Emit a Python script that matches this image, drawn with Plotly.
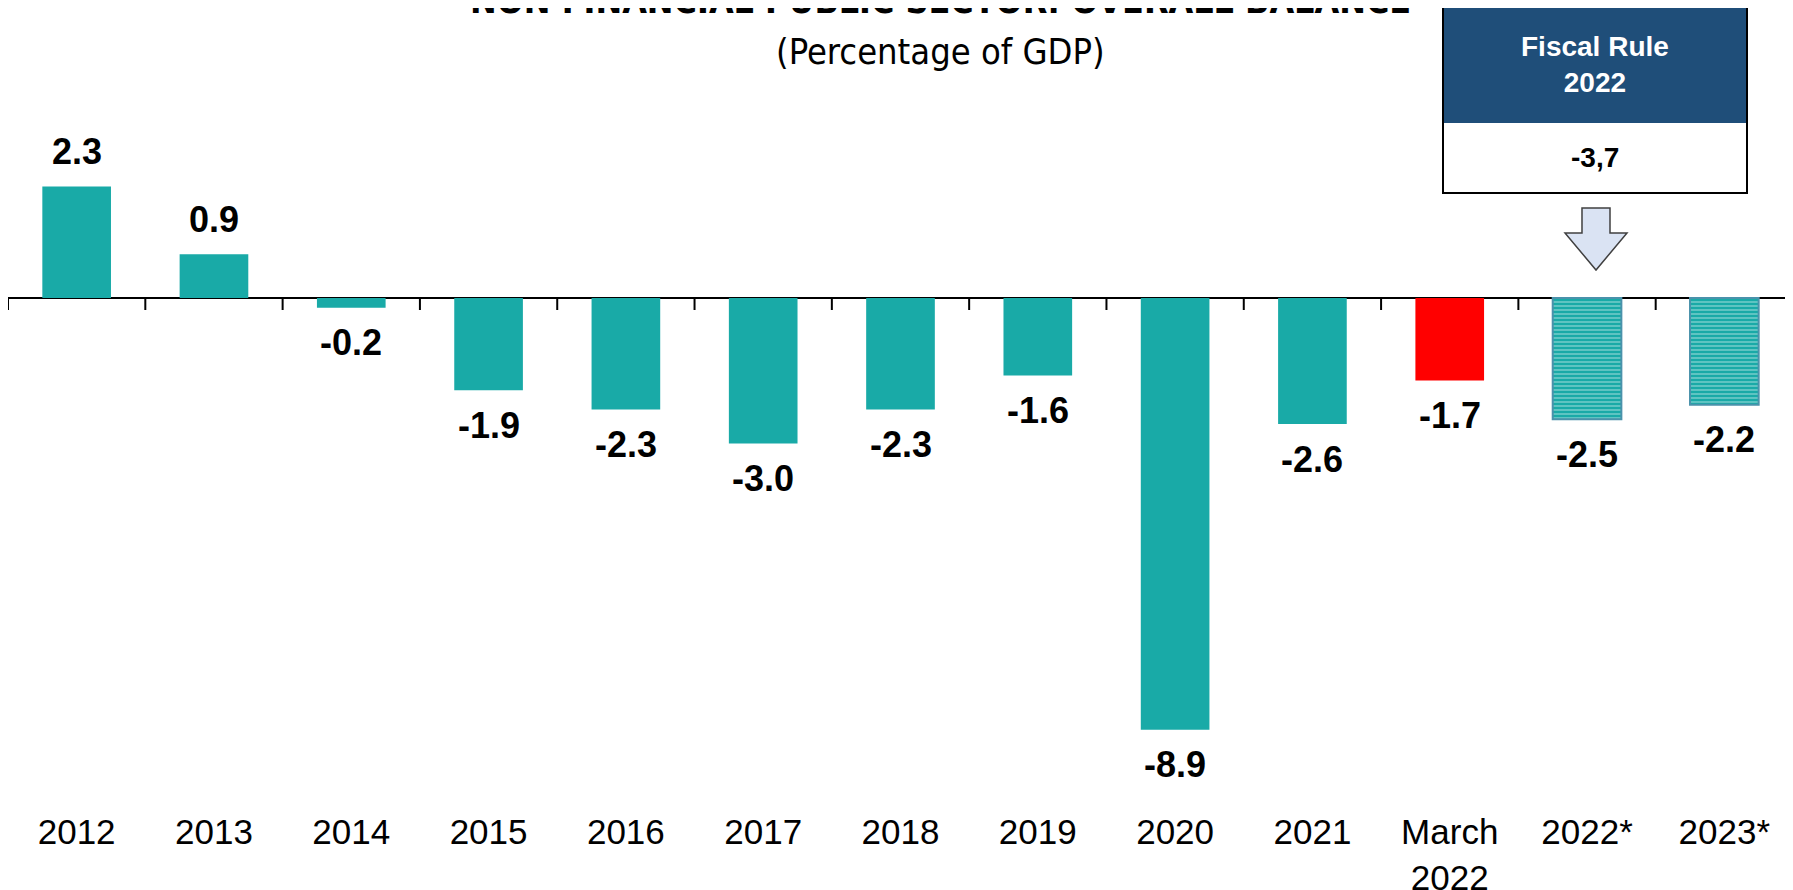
import plotly.graph_objects as go

categories = ["2012", "2013", "2014", "2015", "2016", "2017", "2018", "2019",
              "2020", "2021", "March<br>2022", "2022*", "2023*"]
values = [2.3, 0.9, -0.2, -1.9, -2.3, -3.0, -2.3, -1.6, -8.9, -2.6, -1.7, -2.5, -2.2]
kinds = ["actual"] * 10 + ["march", "projection", "projection"]
fiscal_rule_title = "Fiscal Rule<br>2022"
fiscal_rule_value = "-3,7"
title_text = "NON FINANCIAL PUBLIC SECTOR: OVERALL BALANCE"
subtitle_text = "(Percentage of GDP)"

# page body has an 8px default margin; figure sized to fill the window
OFF = 8
W, H = 1785, 882
ML, MR, MT, MB = 0, 0, 92, 82
PX_PER_UNIT = 48.5
ZERO_SCREEN = 298
plot_h = H - MT - MB
plot_w = W - ML - MR
plot_top_screen = OFF + MT
plot_bot_screen = OFF + H - MB
y_top = (ZERO_SCREEN - plot_top_screen) / PX_PER_UNIT
y_bot = -(plot_bot_screen - ZERO_SCREEN) / PX_PER_UNIT


def px_x(sx):
    return (sx - OFF - ML) / plot_w


def px_y(sy):
    return (plot_bot_screen - sy) / plot_h


TEAL = "#19AAA7"
RED = "#FF0000"
BOLD = "Liberation Sans, Arial, sans-serif"
NARROW = "Liberation Sans Narrow, Arial Narrow, DejaVu Sans Condensed, sans-serif"

positions = list(range(len(categories)))

fig = go.Figure()

idx_actual = [i for i, k in enumerate(kinds) if k == "actual"]
idx_march = [i for i, k in enumerate(kinds) if k == "march"]
idx_proj = [i for i, k in enumerate(kinds) if k == "projection"]

fig.add_trace(go.Bar(
    x=[positions[i] for i in idx_actual], y=[values[i] for i in idx_actual], width=0.5,
    marker=dict(color=TEAL, line=dict(width=0)), showlegend=False, hoverinfo="skip"))
fig.add_trace(go.Bar(
    x=[positions[i] for i in idx_march], y=[values[i] for i in idx_march], width=0.5,
    marker=dict(color=RED, line=dict(width=0)), showlegend=False, hoverinfo="skip"))
fig.add_trace(go.Bar(
    x=[positions[i] for i in idx_proj], y=[values[i] for i in idx_proj], width=0.5,
    marker=dict(color=TEAL,
                pattern=dict(shape="-", fgcolor="white", bgcolor=TEAL, size=4, solidity=0.3),
                line=dict(color="#4A92AB", width=2)),
    showlegend=False, hoverinfo="skip"))

annotations = []
for p, v in zip(positions, values):
    annotations.append(dict(
        x=p, y=v, xref="x", yref="y", text=f"<b>{v:.1f}</b>", showarrow=False,
        xanchor="center", yanchor="middle", yshift=35 if v > 0 else -35,
        font=dict(family=BOLD, size=36, color="black")))

# title and subtitle
annotations.append(dict(x=px_x(940), y=px_y(0), xref="paper", yref="paper",
                        text=f"<b>{title_text}</b>", showarrow=False,
                        xanchor="center", yanchor="middle",
                        font=dict(family=NARROW, size=35.5, color="black")))
annotations.append(dict(x=px_x(940), y=px_y(52), xref="paper", yref="paper",
                        text=subtitle_text, showarrow=False,
                        xanchor="center", yanchor="middle",
                        font=dict(family=NARROW, size=36, color="black")))

# fiscal rule box texts
annotations.append(dict(x=px_x(1595), y=px_y(65), xref="paper", yref="paper",
                        text=f"<b>{fiscal_rule_title}</b>", showarrow=False,
                        xanchor="center", yanchor="middle", align="center",
                        font=dict(family=BOLD, size=28, color="white")))
annotations.append(dict(x=px_x(1595), y=px_y(157), xref="paper", yref="paper",
                        text=f"<b>{fiscal_rule_value}</b>", showarrow=False,
                        xanchor="center", yanchor="middle",
                        font=dict(family=BOLD, size=28, color="black")))

shapes = []
# tick marks at category boundaries on zero line
tick_len = 12 / PX_PER_UNIT
for i in range(len(categories) + 1):
    shapes.append(dict(type="line", xref="x", yref="y", x0=i - 0.5, x1=i - 0.5,
                       y0=0, y1=-tick_len, line=dict(color="black", width=2)))

# box
shapes.append(dict(type="rect", xref="paper", yref="paper",
                   x0=px_x(1443), x1=px_x(1747), y0=px_y(123), y1=px_y(7),
                   fillcolor="#1F4E79", line=dict(width=0), layer="above"))
shapes.append(dict(type="rect", xref="paper", yref="paper",
                   x0=px_x(1443), x1=px_x(1747), y0=px_y(193), y1=px_y(123),
                   fillcolor="white", line=dict(width=0), layer="above"))
shapes.append(dict(type="rect", xref="paper", yref="paper",
                   x0=px_x(1443), x1=px_x(1747), y0=px_y(193), y1=px_y(7),
                   fillcolor="rgba(0,0,0,0)", line=dict(color="black", width=2), layer="above"))

# down arrow
pts = [(1582, 208), (1610, 208), (1610, 233), (1627, 233), (1596, 270), (1565, 233), (1582, 233)]
path = "M " + " L ".join(f"{px_x(a):.5f},{px_y(b):.5f}" for a, b in pts) + " Z"
shapes.append(dict(type="path", xref="paper", yref="paper", path=path,
                   fillcolor="#DAE3F3", line=dict(color="#404040", width=1.5), layer="above"))

fig.update_layout(
    width=W, height=H,
    margin=dict(l=ML, r=MR, t=MT, b=MB, pad=0, autoexpand=False),
    plot_bgcolor="white", paper_bgcolor="white",
    barmode="overlay",
    showlegend=False,
    annotations=annotations,
    shapes=shapes,
    xaxis=dict(range=[-0.5, len(categories) - 0.5], tickmode="array",
               tickvals=positions, ticktext=categories, automargin=False,
               showgrid=False, showline=False, ticks="", zeroline=False,
               tickfont=dict(family="Liberation Sans, Arial, sans-serif", size=35, color="black"),
               fixedrange=True),
    yaxis=dict(range=[y_bot, y_top], showgrid=False, showticklabels=False, ticks="",
               zeroline=True, zerolinecolor="black", zerolinewidth=2, showline=False,
               automargin=False, fixedrange=True),
)

fig.write_html("out.html")
